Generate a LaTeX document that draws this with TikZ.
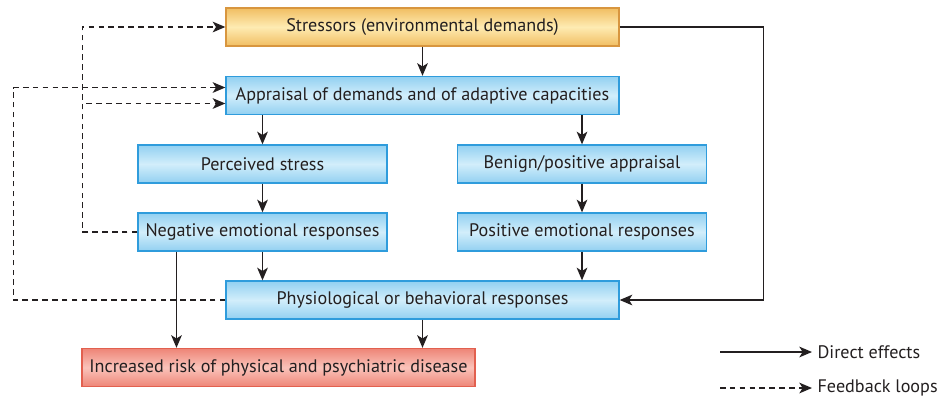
\documentclass[tikz,border=0pt]{standalone}
\usepackage{fontspec}
\setmainfont{PT Sans}
\usepackage{tikz}
\usetikzlibrary{arrows.meta}
\definecolor{textgray}{HTML}{231F20}
\definecolor{orangeedge}{HTML}{F1BE62}
\definecolor{orangemid}{HTML}{FEEBB2}
\definecolor{orangeline}{HTML}{D8963F}
\definecolor{blueedge}{HTML}{92D0F1}
\definecolor{bluemid}{HTML}{D2EEFB}
\definecolor{blueline}{HTML}{2F9CDC}
\definecolor{rededge}{HTML}{EE8577}
\definecolor{redmid}{HTML}{FAC3BA}
\definecolor{redline}{HTML}{E2604F}
\tikzset{box/.style={draw, line width=1pt, minimum height=28.5pt, inner sep=0pt,
  font=\fontsize{13.6}{16}\selectfont, text=textgray},
%wide boxes sit over the middle, narrow ones in the two columns
wide/.style={box, minimum width=294.75pt},
narrow/.style={box, minimum width=186.75pt},
bluebox/.style={draw=blueline, top color=blueedge, bottom color=blueedge, middle color=bluemid},
stressbox/.style={draw=orangeline, top color=orangeedge, bottom color=orangeedge, middle color=orangemid},
riskbox/.style={draw=redline, top color=rededge, bottom color=rededge, middle color=redmid},
effect arrow/.style={-{Stealth[length=9.5pt,width=8pt,inset=2.5pt]}, line width=1.1pt, draw=textgray},
feedback arrow/.style={effect arrow, dash pattern=on 4.2pt off 3.2pt}}

\begin{document}
\begin{tikzpicture}[x=0.75pt,y=-0.75pt]
\useasboundingbox (0,0) rectangle (946,405);
% boxes
\node[wide,stressbox] (stress) at (422.5,27) {Stressors (environmental demands)};
\node[wide,bluebox] (apprais) at (422.5,95.5) {Appraisal of demands and of adaptive capacities};
\node[narrow,bluebox] (perc) at (262.5,164) {Perceived stress};
\node[narrow,bluebox] (benign) at (582,164) {Benign/positive appraisal};
\node[narrow,bluebox] (neg) at (262.5,232) {Negative emotional responses};
\node[narrow,bluebox] (pos) at (582,232) {Positive emotional responses};
\node[wide,bluebox] (phys) at (422.5,300) {Physiological or behavioral responses};
\node[wide,riskbox] (risk) at (278.5,367.5) {Increased risk of physical and psychiatric disease};

% direct effects
\draw[effect arrow] (stress.south) -- (apprais.north);
\foreach \n in {perc,benign}
     \draw[effect arrow] (\n.north |- apprais.south) -- (\n.north);
\draw[effect arrow] (perc.south) -- (neg.north);
\draw[effect arrow] (benign.south) -- (pos.north);
\foreach \n in {neg,pos}
     \draw[effect arrow] (\n.south) -- (\n.south |- phys.north);
\draw[effect arrow] ([xshift=-64.5pt]neg.south) -- ([xshift=-64.5pt]neg.south |- risk.north);
\draw[effect arrow] (phys.south) -- (phys.south |- risk.north);
\draw[effect arrow] (stress.east) -- ++(144,0) |- (phys.east);

% feedback loops
\draw[feedback arrow] (neg.west) -- ++(-55,0) |- (stress.west);
\draw[feedback arrow] (neg.west) -- ++(-55,0) |- ([yshift=-6pt]apprais.west);
\draw[feedback arrow] (phys.west) -- ++(-212,0) |- ([yshift=6pt]apprais.west);

%legend
\coordinate (legA) at (720,352);
\coordinate (legB) at (720,388);
\node[anchor=west, inner sep=4pt, font=\fontsize{13.6}{16}\selectfont, text=textgray] (leg1) at (812,352) {Direct effects};
\node[anchor=west, inner sep=4pt, font=\fontsize{13.6}{16}\selectfont, text=textgray] (leg2) at (812,388) {Feedback loops};
\draw[effect arrow] (legA) -- (leg1.west);
\draw[feedback arrow] (legB) -- (leg2.west);

\end{tikzpicture}
\end{document}
